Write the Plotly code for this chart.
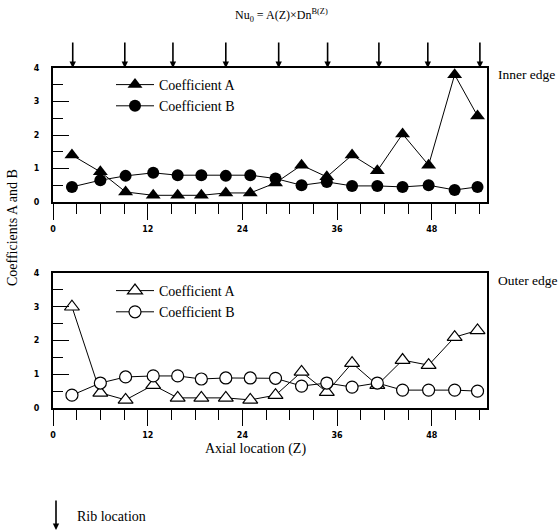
import plotly.graph_objects as go

# Axial locations (Z) of the measurement points
z = [2.4, 6.0, 9.2, 12.7, 15.8, 18.8, 21.9, 25.0, 28.2, 31.5, 34.7, 37.9, 41.1, 44.3, 47.6, 50.9, 53.8]

# Inner edge coefficients
inner_a = [1.4, 0.9, 0.3, 0.2, 0.2, 0.2, 0.27, 0.27, 0.57, 1.1, 0.75, 1.4, 0.93, 2.03, 1.1, 3.8, 2.57]
inner_b = [0.45, 0.65, 0.78, 0.87, 0.8, 0.8, 0.78, 0.8, 0.7, 0.5, 0.6, 0.48, 0.48, 0.45, 0.5, 0.36, 0.45]

# Outer edge coefficients
outer_a = [3.0, 0.45, 0.24, 0.68, 0.3, 0.3, 0.3, 0.24, 0.38, 1.07, 0.47, 1.33, 0.68, 1.42, 1.27, 2.1, 2.3]
outer_b = [0.38, 0.74, 0.92, 0.95, 0.95, 0.86, 0.89, 0.89, 0.88, 0.65, 0.74, 0.62, 0.74, 0.53, 0.53, 0.53, 0.5]

# Rib locations (Z)
rib_locations = [2.5, 9.1, 15.2, 21.9, 28.6, 34.8, 41.3, 47.5, 54.1]

x_tickvals = [0, 12, 24, 36, 48]
y_tickvals = [0, 1, 2, 3, 4]

W, H = 559, 532
SERIF = "Liberation Serif"
TICKFONT = dict(family="DejaVu Sans", size=8, color="black", weight="bold")

fig = go.Figure()

line = dict(color="black", width=1)
fig.add_trace(go.Scatter(x=z, y=inner_a, mode="lines+markers", name="Coefficient A",
                         line=line, marker=dict(symbol="triangle-up", size=13, color="black"),
                         xaxis="x", yaxis="y", legend="legend"))
fig.add_trace(go.Scatter(x=z, y=inner_b, mode="lines+markers", name="Coefficient B",
                         line=line, marker=dict(symbol="circle", size=12, color="black"),
                         xaxis="x", yaxis="y", legend="legend"))
fig.add_trace(go.Scatter(x=z, y=outer_a, mode="lines+markers", name="Coefficient A",
                         line=line, marker=dict(symbol="triangle-up", size=13, color="white",
                                                line=dict(color="black", width=1.2)),
                         xaxis="x2", yaxis="y2", legend="legend2"))
fig.add_trace(go.Scatter(x=z, y=outer_b, mode="lines+markers", name="Coefficient B",
                         line=line, marker=dict(symbol="circle", size=12, color="white",
                                                line=dict(color="black", width=1.2)),
                         xaxis="x2", yaxis="y2", legend="legend2"))

def xax(anchor):
    return dict(domain=[53 / W, 487 / W], anchor=anchor, range=[0, 55], automargin=False,
                tickmode="array", tickvals=x_tickvals, ticktext=[str(v) for v in x_tickvals],
                ticks="outside", ticklen=16, tickwidth=1.3, tickcolor="black",
                minor=dict(tickmode="linear", tick0=0, dtick=3, ticks="outside", ticklen=10,
                           tickwidth=1.2, tickcolor="black", showgrid=False),
                showline=True, linecolor="black", linewidth=2, mirror=True,
                showgrid=False, zeroline=False, tickfont=TICKFONT, ticklabelstandoff=2)

def yax(anchor, top_px, bot_px):
    return dict(domain=[(H - bot_px) / H, (H - top_px) / H], anchor=anchor, range=[0, 4],
                automargin=False,
                tickmode="array", tickvals=y_tickvals, ticktext=[str(v) for v in y_tickvals],
                ticks="inside", ticklen=16, tickwidth=1.3, tickcolor="black",
                minor=dict(tickmode="linear", tick0=0, dtick=0.5, ticks="inside", ticklen=10,
                           tickwidth=1.2, tickcolor="black", showgrid=False),
                showline=True, linecolor="black", linewidth=2, mirror=True,
                showgrid=False, zeroline=False, tickfont=TICKFONT, ticklabelstandoff=10)

fig.update_layout(
    width=W, height=H,
    margin=dict(l=0, r=0, t=0, b=0, pad=0),
    paper_bgcolor="white", plot_bgcolor="white",
    xaxis=xax("y"),
    yaxis=yax("x", 68, 202),
    xaxis2=xax("y2"),
    yaxis2=yax("x2", 273, 408),
    showlegend=True,
    legend=dict(x=111 / W, y=(H - 69) / H, xanchor="left", yanchor="top",
                bgcolor="rgba(0,0,0,0)", font=dict(family=SERIF, size=14, color="black"),
                itemwidth=38, tracegroupgap=0),
    legend2=dict(x=111 / W, y=(H - 275) / H, xanchor="left", yanchor="top",
                 bgcolor="rgba(0,0,0,0)", font=dict(family=SERIF, size=14, color="black"),
                 itemwidth=38, tracegroupgap=0),
)

def txt(text, x, y, size=14, xanchor="center", angle=0):
    return dict(text=text, x=x / W, y=(H - y) / H, xref="paper", yref="paper",
                xanchor=xanchor, yanchor="middle", showarrow=False, textangle=angle,
                font=dict(family=SERIF, size=size, color="black"))

annotations = [
    txt("Nu<sub>0</sub> = A(Z)×Dn<sup>B(Z)</sup>", 281, 15, size=12),
    txt("Inner edge", 496, 74, size=13.5, xanchor="left"),
    txt("Outer edge", 496, 280, size=13.5, xanchor="left"),
    txt("Coefficients A and B", 12, 228, angle=-90),
    txt("Axial location (Z)", 255, 449),
    txt("Rib location", 75, 516, xanchor="left"),
    dict(text="", x=56 / W, y=(H - 530) / H, xref="paper", yref="paper",
         showarrow=True, ax=0, ay=-31, arrowhead=2, arrowsize=0.8, arrowwidth=1.6,
         arrowcolor="black", standoff=0),
]
for r in rib_locations:
    annotations.append(dict(text="", x=r, y=4, xref="x", yref="y", showarrow=True,
                            ax=0, ay=-27, arrowhead=2, arrowsize=0.8, arrowwidth=1.6,
                            arrowcolor="black", standoff=0))
fig.update_layout(annotations=annotations)

fig.write_html("out.html", config={"displayModeBar": False},
               post_script="document.body.style.margin='0px';document.body.style.overflow='hidden';")
